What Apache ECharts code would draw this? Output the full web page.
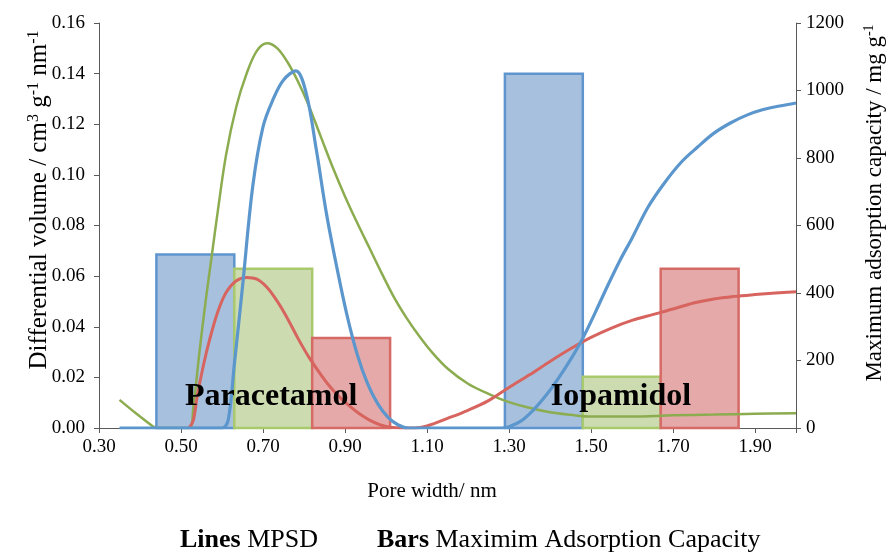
<!DOCTYPE html>
<html>
<head>
<meta charset="utf-8">
<script src="https://cdn.jsdelivr.net/npm/echarts@6/dist/echarts.min.js"></script>
<style>html,body{margin:0;padding:0;background:#fff}#c{width:886px;height:552px}</style>
</head>
<body>
<div id="c"></div>
<script>
// ---- data ----
const xTicksMin = 0.3, xTicksMax = 2.0;
const groups = ['Paracetamol', 'Iopamidol'];
const groupLabelX = [0.72, 1.573];
const groupLabelY = [0.0122, 0.0122];

const blueBarX = [[0.44, 0.63], [1.29, 1.48]];
const blueBarCap = [514, 1050];
const greenBarX = [[0.63, 0.82], [1.48, 1.67]];
const greenBarCap = [472, 152];
const redBarX = [[0.82, 1.01], [1.67, 1.86]];
const redBarCap = [267, 472];

const blueLineX = [0.35,0.45,0.55,0.60,0.615,0.63,0.65,0.675,0.70,0.725,0.75,0.78,0.805,0.83,0.855,0.88,0.905,0.93,0.955,0.98,1.005,1.03,1.055,1.10,1.20,1.28,1.30,1.33,1.36,1.39,1.42,1.45,1.48,1.51,1.54,1.57,1.60,1.64,1.68,1.72,1.76,1.80,1.84,1.88,1.92,1.96,2.0];
const blueLineY = [0,0,0,0,0.003,0.025,0.0558,0.0955,0.119,0.130,0.1375,0.1411,0.1325,0.110,0.0845,0.0635,0.0445,0.029,0.0175,0.0095,0.0042,0.0012,0,0,0,0,0.0005,0.0028,0.0072,0.0128,0.0195,0.027,0.0355,0.0455,0.056,0.066,0.075,0.0875,0.097,0.105,0.111,0.1165,0.1205,0.1236,0.1258,0.1272,0.1284];

const greenLineX = [0.35,0.39,0.43,0.44,0.48,0.52,0.53,0.545,0.56,0.575,0.59,0.61,0.635,0.66,0.685,0.71,0.735,0.76,0.785,0.81,0.84,0.87,0.90,0.93,0.96,0.99,1.02,1.05,1.08,1.11,1.15,1.20,1.25,1.30,1.35,1.40,1.45,1.50,1.60,1.70,1.80,1.90,2.0];
const greenLineY = [0.0111,0.0058,0.0008,0,0,0,0.008,0.030,0.050,0.068,0.086,0.108,0.127,0.140,0.149,0.152,0.150,0.1445,0.137,0.128,0.1155,0.103,0.0915,0.081,0.071,0.061,0.0515,0.0435,0.0365,0.0303,0.0235,0.0175,0.0135,0.0102,0.008,0.0062,0.0052,0.0045,0.0045,0.005,0.0053,0.0056,0.0058];

const redLineX = [0.52,0.53,0.54,0.555,0.57,0.59,0.61,0.635,0.66,0.685,0.71,0.735,0.76,0.785,0.81,0.835,0.86,0.885,0.91,0.935,0.96,0.985,1.01,1.04,1.07,1.10,1.15,1.20,1.25,1.30,1.35,1.40,1.45,1.50,1.55,1.60,1.65,1.70,1.75,1.80,1.85,1.90,1.95,2.0];
const redLineY = [0,0.003,0.013,0.025,0.035,0.046,0.0535,0.0582,0.0595,0.0588,0.0555,0.050,0.0432,0.0355,0.0285,0.0225,0.017,0.0125,0.0088,0.0056,0.0031,0.0013,0.0003,0,0,0.0008,0.0038,0.007,0.0108,0.016,0.021,0.0263,0.0313,0.0358,0.0395,0.0425,0.0448,0.047,0.0494,0.051,0.052,0.0527,0.0533,0.0538];

const leftTicks = {min: 0, max: 0.16, interval: 0.02};
const rightTicks = {min: 0, max: 1200, interval: 200};

// ---- helpers ----
const zip = (xs, ys) => xs.map((x, i) => [x, ys[i]]);
const barData = (xr, cap) => xr.map((r, i) => [r[0], r[1], cap[i]]);
const FONT = 'Liberation Serif';
const AXIS = '#595959';

function barSeries(name, data, fill, stroke) {
  return {
    name, type: 'custom', xAxisIndex: 0, yAxisIndex: 1, z: 1,
    encode: {x: [0, 1], y: 2},
    data,
    renderItem(params, api) {
      const p0 = api.coord([api.value(0), api.value(2)]);
      const p1 = api.coord([api.value(1), 0]);
      return {type: 'rect', shape: {x: p0[0], y: p0[1], width: p1[0] - p0[0], height: p1[1] - p0[1]},
        style: {fill, stroke, lineWidth: 2.5}};
    }
  };
}
function lineSeries(name, data, color, width) {
  return {name, type: 'line', data, smooth: 0.35, showSymbol: false, symbol: 'none', z: 3,
    lineStyle: {color, width}, xAxisIndex: 0, yAxisIndex: 0};
}

const chart = echarts.init(document.getElementById('c'), null, {renderer: 'canvas'});
const supL = {fontSize: 16, fontFamily: FONT, verticalAlign: 'top', lineHeight: 27};
const supR = {fontSize: 14, fontFamily: FONT, verticalAlign: 'top', lineHeight: 25};
chart.setOption({
  animation: false,
  backgroundColor: '#fff',
  grid: {left: 99, right: 90, top: 23, bottom: 124},
  xAxis: {
    type: 'value', min: xTicksMin, max: xTicksMax, interval: 0.2,
    axisLine: {lineStyle: {color: AXIS, width: 1}},
    axisTick: {show: true, length: 5, lineStyle: {color: AXIS}},
    splitLine: {show: false},
    axisLabel: {color: '#000', fontFamily: FONT, fontSize: 19, margin: 10,
      formatter: v => (v > 1.95 ? '' : v.toFixed(2))}
  },
  yAxis: [
    {type: 'value', min: leftTicks.min, max: leftTicks.max, interval: leftTicks.interval,
      axisLine: {show: true, lineStyle: {color: AXIS}},
      axisTick: {show: true, length: 5, lineStyle: {color: AXIS}},
      splitLine: {show: false},
      axisLabel: {color: '#000', fontFamily: FONT, fontSize: 19, margin: 14, formatter: v => v.toFixed(2)}},
    {type: 'value', min: rightTicks.min, max: rightTicks.max, interval: rightTicks.interval, position: 'right',
      axisLine: {show: true, lineStyle: {color: AXIS}},
      axisTick: {show: true, length: 5, lineStyle: {color: AXIS}},
      splitLine: {show: false},
      axisLabel: {color: '#000', fontFamily: FONT, fontSize: 19, margin: 10, formatter: v => String(v)}}
  ],
  graphic: [
    {type: 'text', x: 39, y: 200, rotation: Math.PI / 2,
      style: {text: 'Differential volume / cm{s|3} g{s|-1} nm{s|-1}', fill: '#000',
        font: '25px "Liberation Serif"', align: 'center', verticalAlign: 'middle',
        rich: {s: supL}}},
    {type: 'text', x: 875, y: 203, rotation: Math.PI / 2,
      style: {text: 'Maximum adsorption capacity / mg g{s|-1}', fill: '#000',
        font: '23px "Liberation Serif"', align: 'center', verticalAlign: 'middle',
        rich: {s: supR}}},
    {type: 'text', x: 432, y: 491,
      style: {text: 'Pore width/ nm', fill: '#000', font: '21px "Liberation Serif"', align: 'center', verticalAlign: 'middle'}},
    {type: 'text', x: 180, y: 540,
      style: {text: '{b|Lines} MPSD', fill: '#000', font: '26px "Liberation Serif"', align: 'left', verticalAlign: 'middle',
        rich: {b: {fontWeight: 'bold', fontSize: 26, fontFamily: FONT}}}},
    {type: 'text', x: 377, y: 540,
      style: {text: '{b|Bars} Maximim Adsorption Capacity', fill: '#000', font: '26px "Liberation Serif"', align: 'left', verticalAlign: 'middle',
        rich: {b: {fontWeight: 'bold', fontSize: 26, fontFamily: FONT}}}}
  ],
  series: [
    barSeries('Blue bars', barData(blueBarX, blueBarCap), 'rgba(167,192,222,1)', '#5f95cf'),
    barSeries('Green bars', barData(greenBarX, greenBarCap), 'rgba(205,220,176,1)', '#a9c96d'),
    barSeries('Red bars', barData(redBarX, redBarCap), 'rgba(228,169,168,1)', '#d66a66'),
    lineSeries('Green MPSD', zip(greenLineX, greenLineY), '#8cac50', 2.5),
    lineSeries('Red MPSD', zip(redLineX, redLineY), '#d7645e', 3),
    lineSeries('Blue MPSD', zip(blueLineX, blueLineY), '#5b96cd', 3.2),
    {name: 'Labels', type: 'scatter', symbolSize: 0, z: 5, xAxisIndex: 0, yAxisIndex: 0,
      data: groups.map((g, i) => ({name: g, value: [groupLabelX[i], groupLabelY[i]]})),
      label: {show: true, position: 'inside', formatter: p => p.name, color: '#000',
        textBorderWidth: 0, opacity: 1,
        fontFamily: FONT, fontWeight: 'bold', fontSize: 32}}
  ]
});
</script>
</body>
</html>
